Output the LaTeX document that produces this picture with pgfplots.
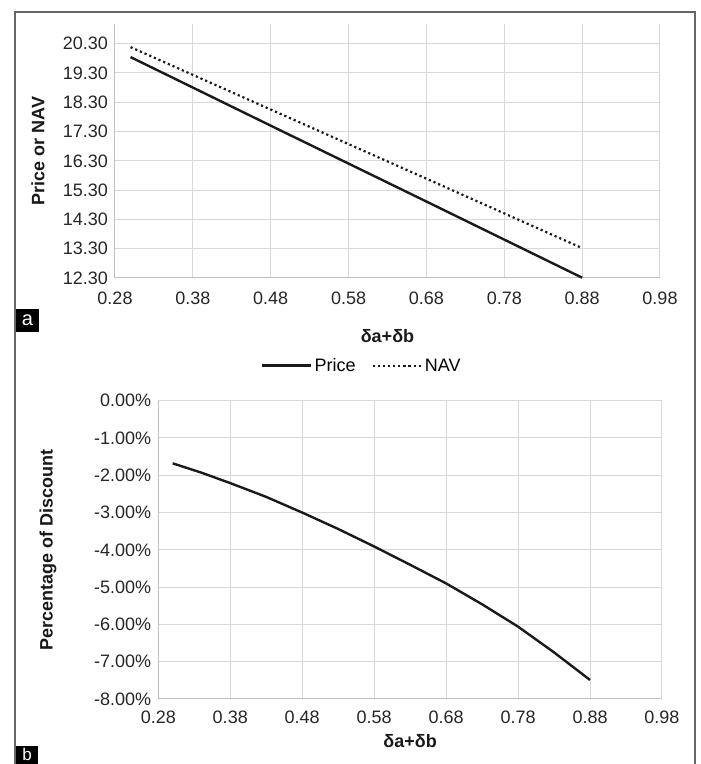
\documentclass[border=0pt]{standalone}
\usepackage{pgfplots}
\pgfplotsset{compat=1.18}
\usepackage{fontspec}
\setmainfont{Liberation Sans}
\definecolor{gridc}{HTML}{D9D9D9}
\definecolor{axc}{HTML}{BFBFBF}
\definecolor{linec}{HTML}{1A1A1A}
\definecolor{framec}{HTML}{666666}
\pgfplotsset{
  excel/.style={
    scale only axis,
    axis x line*=bottom, axis y line*=left,
    axis line style={draw=axc, line width=1pt, -},
    grid=major,
    major grid style={draw=gridc, line width=1pt},
    major tick length=0pt,
    tick style={draw=none},
    xmin=0.28, xmax=0.98,
    xtick={0.28,0.38,0.48,0.58,0.68,0.78,0.88,0.98},
    xticklabels={0.28,0.38,0.48,0.58,0.68,0.78,0.88,0.98},
    every tick label/.append style={font=\fontsize{18}{20}\selectfont, text=black!85},
    yticklabel style={anchor=east, inner sep=0pt, xshift=-7pt},
    label style={font=\fontsize{18}{20}\selectfont\bfseries, text=black!90},
    /pgf/number format/assume math mode=true,
  }
}
\begin{document}
\begin{tikzpicture}
\useasboundingbox (0pt,0pt) rectangle (701pt,764pt);
% outer frame
\draw[framec, line width=1.3pt] (15pt,0pt) -- (15pt,752pt) -- (695pt,752pt) -- (695pt,0pt);
% panel labels
\fill[black] (16pt,455pt) rectangle (39pt,432pt);
\node[text=white, font=\fontsize{20}{22}\selectfont, anchor=base] at (27.5pt,438pt) {a};
\fill[black] (16pt,18pt) rectangle (38pt,0pt);
\node[text=white, font=\fontsize{17}{19}\selectfont, anchor=base, inner sep=0pt] at (27pt,3pt) {b};

% panel a
\begin{axis}[excel,
  at={(115pt,486pt)}, anchor=south west,
  width=545pt, height=254pt,
  ymin=12.3, ymax=20.97,
  ytick={12.3,13.3,14.3,15.3,16.3,17.3,18.3,19.3,20.3},
  yticklabels={12.30,13.30,14.30,15.30,16.30,17.30,18.30,19.30,20.30},
  xticklabel style={anchor=center, yshift=-20pt},
  xlabel={δa+δb},
  xlabel style={at={(axis description cs:0.5,-0.2283)}, anchor=center},
  ylabel={Price or NAV},
  ylabel style={at={(axis description cs:-0.1413,0.5)}, anchor=center},
  legend columns=2,
  legend image code/.code={\draw[#1] (0pt,0pt) -- (49pt,0pt);},
  legend style={at={(axis description cs:0.453,-0.345)}, anchor=center, draw=none, fill=none,
    font=\fontsize{18}{20}\selectfont, inner sep=0pt,
    /tikz/every even column/.append style={column sep=14pt},
    nodes={inner sep=2pt}},
  clip=false,
]
\addplot[linec, line width=2.4pt] coordinates {(0.30,19.84) (0.48,17.50) (0.68,14.91) (0.88,12.31)};
\addlegendentry{Price}
\addplot[linec, line width=2.2pt, dash pattern=on 2.2pt off 2.9pt] coordinates {(0.30,20.18) (0.48,18.05) (0.68,15.69) (0.88,13.32)};
\addlegendentry{NAV}
\end{axis}

% panel b
\begin{axis}[excel,
  at={(158.3pt,65pt)}, anchor=south west,
  width=503.7pt, height=298.3pt,
  ymin=-8, ymax=0,
  ytick={-8,-7,-6,-5,-4,-3,-2,-1,0},
  yticklabels={-8.00\%,-7.00\%,-6.00\%,-5.00\%,-4.00\%,-3.00\%,-2.00\%,-1.00\%,0.00\%},
  xticklabel style={anchor=center, yshift=-18pt},
  xlabel={δa+δb},
  xlabel style={at={(axis description cs:0.5,-0.1408)}, anchor=center},
  ylabel={Percentage of Discount},
  ylabel style={at={(axis description cs:-0.219,0.5)}, anchor=center},
]
\addplot[linec, line width=2.4pt, line join=round] coordinates {(0.30,-1.68) (0.34,-1.93) (0.38,-2.21) (0.43,-2.58) (0.48,-3.00) (0.53,-3.44) (0.58,-3.91) (0.63,-4.40) (0.68,-4.90) (0.73,-5.46) (0.78,-6.06) (0.83,-6.75) (0.88,-7.49)};
\end{axis}
\end{tikzpicture}
\end{document}
